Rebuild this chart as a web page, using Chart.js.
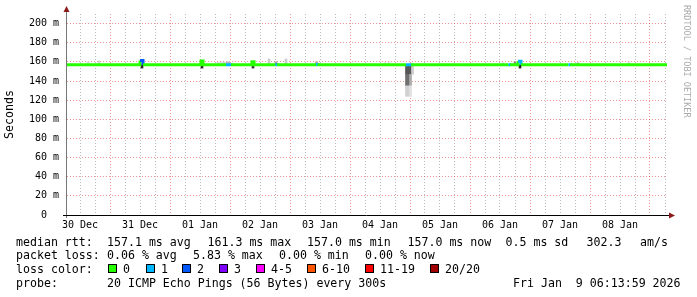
<!DOCTYPE html>
<html>
<head>
<meta charset="utf-8">
<script src="https://cdn.jsdelivr.net/npm/chart.js@4.4.1/dist/chart.umd.min.js"></script>
<style>
    html, body { margin: 0; padding: 0; background: #fff; }
    #wrap { position: relative; width: 697px; height: 297px; overflow: hidden; font-family: 'DejaVu Sans Mono', monospace; }
    #wrap canvas { position: absolute; left: 0; top: 0; }
    .t { position: absolute; font-size: 11.6px; line-height: 14px; white-space: pre; color: #000; }
    .box { position: absolute; width: 7px; height: 7px; border: 1px solid #000; }
</style>
</head>
<body>
<div id="wrap"><canvas id="rttChart" width="697" height="297"></canvas></div>
<script>
// hours counted from 30 Dec 00:00
const dayLabels = ['30 Dec', '31 Dec', '01 Jan', '02 Jan', '03 Jan', '04 Jan', '05 Jan', '06 Jan', '07 Jan', '08 Jan'];

// median rtt (ms), each value holds until the next time; loss = lost pings out of 20
const rttHours = [6.8, 36.0, 37.2, 60.4, 61.2, 70.4, 72.4, 80.8, 81.6, 90.2, 90.8, 106.4, 107.0, 142.4, 144.4, 183.4, 184.0, 187.2, 188.4, 207.4, 208.0, 246.8];
const rttMs    = [157.1, 161.3, 157.1, 160.8, 157.1, 157.1, 157.0, 160.2, 157.1, 157.1, 157.0, 157.2, 157.0, 157.1, 157.0, 157.1, 157.0, 160.6, 157.1, 157.1, 157.0, 157.0];
const rttLoss  = [0, 2, 0, 0, 0, 1, 0, 0, 0, 1, 0, 1, 0, 1, 0, 1, 0, 1, 0, 1, 0, 0];

// smoke: spread of the 20 pings
const smokeHours = [15.2, 19.6, 36.8, 60.8, 67.2, 68.4, 69.6, 70.8, 71.6, 81.2, 87.6, 90.4, 94.4, 106.6, 134.0, 135.6,
    142.6, 142.6, 142.6, 143.4, 143.4, 143.4, 144.2, 144.2, 144.2, 145.0, 181.2, 186.0, 188.0, 211.2, 231.6];
const smokeLow   = [157, 157, 153.5, 153.5, 157, 157, 157, 157, 157, 153.5, 157, 157, 157, 157, 157, 157,
    147, 135, 124, 147, 135, 124, 147, 135, 124, 147, 157, 157, 153.5, 157, 157];
const smokeHigh  = [160, 161, 157, 157, 159.5, 159.5, 159.5, 160, 160, 157, 163, 160, 163, 160, 159, 159,
    156.5, 147, 135, 156.5, 147, 135, 156.5, 147, 135, 156.5, 159, 160, 157, 159, 159];
const smokeShade = ['#dcdcdc', '#d4d4d4', '#222', '#222', '#d8d8d8', '#d8d8d8', '#d0d0d0', '#bbb', '#bbb', '#333', '#ccc', '#999', '#ccc', '#aaa', '#d0d0d0', '#d0d0d0',
    '#555', '#6e6e6e', '#d0d0d0', '#555', '#6e6e6e', '#d0d0d0', '#555', '#aaa', '#e0e0e0', '#ccc', '#d0d0d0', '#888', '#222', '#aaa', '#c4c4c4'];

const lossLegend = ['0', '1', '2', '3', '4-5', '6-10', '11-19', '20/20'];
const lossColors = ['#26ff00', '#00b8ff', '#0059ff', '#7e00ff', '#ff00ff', '#ff5500', '#ff0000', '#a10000'];

function lossColor(n) {
    if (n <= 0) return lossColors[0];
    if (n === 1) return lossColors[1];
    if (n === 2) return lossColors[2];
    if (n === 3) return lossColors[3];
    if (n <= 5) return lossColors[4];
    if (n <= 10) return lossColors[5];
    if (n <= 19) return lossColors[6];
    return lossColors[7];
}

const FONT = "'DejaVu Sans Mono', monospace";
const MAJOR = 'rgba(225, 60, 60, 0.55)';
const MINOR = 'rgba(140, 140, 140, 0.6)';

const decor = {
    id: 'decor',
    afterDraw(chart) {
        const ctx = chart.ctx;
        const a = chart.chartArea;
        ctx.save();
        // y axis
        ctx.strokeStyle = '#777';
        ctx.lineWidth = 1;
        ctx.beginPath();
        ctx.moveTo(a.left - 0.5, a.bottom + 3);
        ctx.lineTo(a.left - 0.5, 10);
        ctx.stroke();
        // x axis
        ctx.strokeStyle = '#000';
        ctx.beginPath();
        ctx.moveTo(a.left - 4, a.bottom + 0.5);
        ctx.lineTo(a.right + 3, a.bottom + 0.5);
        ctx.stroke();
        // arrows
        ctx.fillStyle = '#8b1a1a';
        ctx.beginPath();
        ctx.moveTo(a.left - 0.5, 6);
        ctx.lineTo(a.left - 3.5, 12);
        ctx.lineTo(a.left + 2.5, 12);
        ctx.closePath();
        ctx.fill();
        ctx.beginPath();
        ctx.moveTo(a.right + 8, a.bottom + 0.5);
        ctx.lineTo(a.right + 2, a.bottom - 2.5);
        ctx.lineTo(a.right + 2, a.bottom + 3.5);
        ctx.closePath();
        ctx.fill();
        // watermark
        ctx.translate(684, 5);
        ctx.rotate(Math.PI / 2);
        ctx.fillStyle = '#aaa';
        ctx.font = "8.5px " + FONT;
        ctx.textBaseline = 'alphabetic';
        ctx.fillText('RRDTOOL / TOBI OETIKER', 0, 0);
        ctx.restore();
    }
};

new Chart(document.getElementById('rttChart').getContext('2d'), {
    data: {
        datasets: [
            {
                type: 'line',
                data: rttHours.map((h, i) => ({ x: h, y: rttMs[i] })),
                stepped: true,
                borderWidth: 3,
                borderColor: lossColors[0],
                borderCapStyle: 'butt',
                pointRadius: 0,
                segment: {
                    borderColor: c => lossColor(rttLoss[c.p0DataIndex])
                }
            },
            {
                type: 'bar',
                data: smokeHours.map((h, i) => ({ x: h, y: [smokeLow[i], smokeHigh[i]] })),
                backgroundColor: smokeShade,
                borderWidth: 0,
                barThickness: 2
            }
        ]
    },
    options: {
        responsive: false,
        animation: false,
        layout: { padding: { top: 13, right: 30, left: 0, bottom: 0 } },
        plugins: { legend: { display: false }, tooltip: { enabled: false } },
        scales: {
            x: {
                type: 'linear',
                min: 6.8,
                max: 246.8,
                offset: false,
                afterBuildTicks: s => {
                    const t = [];
                    for (let h = 12; h <= 246; h += 6) t.push({ value: h });
                    s.ticks = t;
                },
                afterFit: s => { s.height = 82; },
                ticks: {
                    autoSkip: false,
                    maxRotation: 0,
                    minRotation: 0,
                    padding: 4,
                    color: '#000',
                    font: { family: FONT, size: 10 },
                    callback: v => (v % 24 === 12 ? dayLabels[(v - 12) / 24] : '')
                },
                grid: {
                    offset: false,
                    drawTicks: false,
                    color: c => (c.tick && c.tick.value % 24 === 0 ? MAJOR : MINOR)
                },
                border: { display: false, dash: [1, 2] }
            },
            y: {
                min: 0,
                max: 210,
                afterFit: s => { s.width = 67; },
                ticks: {
                    stepSize: 10,
                    padding: 8,
                    color: '#000',
                    font: { family: FONT, size: 10 },
                    callback: v => (v % 20 !== 0 || v > 200 ? '' : (v === 0 ? '0  ' : v + ' m'))
                },
                grid: {
                    drawTicks: false,
                    color: c => {
                        const v = c.tick ? c.tick.value : 0;
                        if (v === 0 || v > 200) return 'rgba(0,0,0,0)';
                        return v % 20 === 0 ? MAJOR : MINOR;
                    }
                },
                border: { display: false, dash: [1, 2] },
                title: {
                    display: true,
                    text: 'Seconds',
                    color: '#000',
                    padding: { top: 3, bottom: 0 },
                    font: { family: FONT, size: 11.6 }
                }
            }
        }
    },
    plugins: [decor]
});

// legend text below the graph
const wrap = document.getElementById('wrap');
function addText(x, cy, str) {
    const s = document.createElement('span');
    s.className = 't';
    s.style.left = x + 'px';
    s.style.top = (cy - 7) + 'px';
    s.textContent = str;
    wrap.appendChild(s);
}

addText(16, 241.5, 'median rtt:');
addText(107, 241.5, '157.1 ms avg');
addText(207.5, 241.5, '161.3 ms max');
addText(307, 241.5, '157.0 ms min');
addText(407.5, 241.5, '157.0 ms now');
addText(505.5, 241.5, '0.5 ms sd');
addText(586.5, 241.5, '302.3');
addText(640, 241.5, 'am/s');

addText(16, 255, 'packet loss:');
addText(107, 255, '0.06 % avg');
addText(193, 255, '5.83 % max');
addText(279, 255, '0.00 % min');
addText(365, 255, '0.00 % now');

addText(16, 269, 'loss color:');
const boxX = [108, 146, 182, 219, 256, 307, 365, 430];
lossLegend.forEach((label, i) => {
    const b = document.createElement('div');
    b.className = 'box';
    b.style.left = boxX[i] + 'px';
    b.style.top = '264px';
    b.style.background = lossColors[i];
    wrap.appendChild(b);
    addText(boxX[i] + 15, 269, label);
});

addText(16, 282.5, 'probe:');
addText(107, 282.5, '20 ICMP Echo Pings (56 Bytes) every 300s');
addText(513, 282.5, 'Fri Jan  9 06:13:59 2026');
</script>
</body>
</html>
